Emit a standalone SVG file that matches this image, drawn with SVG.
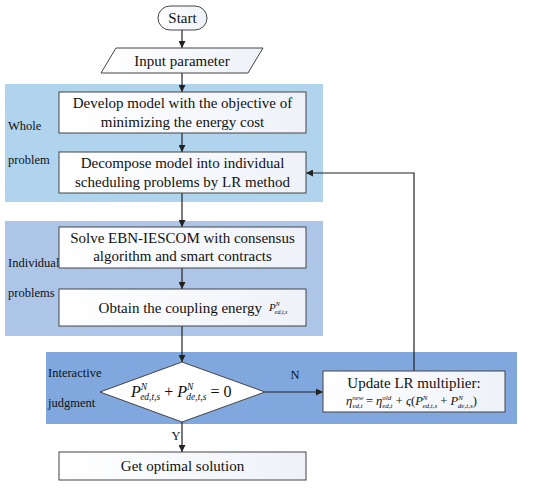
<svg xmlns="http://www.w3.org/2000/svg" width="550" height="497" viewBox="0 0 550 497" font-family="'Liberation Serif', 'Times New Roman', serif">
<defs>
<linearGradient id="bx" x1="0" y1="0" x2="1" y2="0">
<stop offset="0" stop-color="#ffffff"/>
<stop offset="1" stop-color="#eef2f8"/>
</linearGradient>
<marker id="ah" viewBox="0 0 10 10" refX="10" refY="5" markerWidth="7" markerHeight="7" markerUnits="userSpaceOnUse" orient="auto">
<path d="M0,0 L10,5 L0,10 z" fill="#222"/>
</marker>
</defs>
<style>
.t{font-family:"Liberation Serif","Times New Roman",serif;fill:#111;}
.big{font-size:15px;}
.lab{font-size:12.5px;}
.m{font-family:"Liberation Serif","Times New Roman",serif;font-style:italic;fill:#111;}
.box{fill:url(#bx);stroke:#444;stroke-width:1;}
.c{fill:none;stroke:#222;stroke-width:1.2;marker-end:url(#ah);}
</style>
<rect width="550" height="497" fill="#ffffff"/>
<g id="region-whole">
<rect x="5" y="84" width="318" height="118" fill="#b1d4ee"/>
<text class="t lab" x="8" y="130">Whole</text>
<text class="t lab" x="8" y="164">problem</text>
</g>
<g id="region-individual">
<rect x="5" y="221" width="318" height="115" fill="#adc6e8"/>
<text class="t lab" x="8" y="267">Individual</text>
<text class="t lab" x="8" y="297">problems</text>
</g>
<g id="region-interactive">
<rect x="46" y="352" width="471" height="72" fill="#80a8de"/>
<text class="t lab" x="48" y="377">Interactive</text>
<text class="t lab" x="48" y="407">judgment</text>
</g>
<g id="connectors">
<path class="c" d="M182,30 V48"/>
<path class="c" d="M182,73 V92"/>
<path class="c" d="M182,133 V152"/>
<path class="c" d="M182,193 V227"/>
<path class="c" d="M182,268 V289"/>
<path class="c" d="M182,326 V362"/>
<path class="c" d="M265,392 H323"/>
<path class="c" d="M414,371 V173 H306"/>
<path class="c" d="M182,422 V452"/>
<text class="t lab" x="295" y="379" text-anchor="middle">N</text>
<text class="t lab" x="176" y="440" text-anchor="middle">Y</text>
</g>
<g id="start">
<rect x="158" y="6" width="49" height="24" rx="12" ry="12" fill="url(#bx)" stroke="#444"/>
<text class="t big" x="182.5" y="23" text-anchor="middle">Start</text>
</g>
<g id="input">
<polygon points="116,48 263,48 248,73 101,73" class="box"/>
<text class="t big" x="182" y="65.5" text-anchor="middle">Input parameter</text>
</g>
<g id="develop">
<rect x="59" y="92" width="247" height="41" class="box"/>
<text class="t big" x="182.5" y="108" text-anchor="middle">Develop model with the objective of</text>
<text class="t big" x="182.5" y="127" text-anchor="middle">minimizing the energy cost</text>
</g>
<g id="decompose">
<rect x="59" y="152" width="247" height="41" class="box"/>
<text class="t big" x="182.5" y="168" text-anchor="middle">Decompose model into individual</text>
<text class="t big" x="182.5" y="186.5" text-anchor="middle">scheduling problems by LR method</text>
</g>
<g id="solve">
<rect x="59" y="227" width="247" height="41" class="box"/>
<text class="t big" x="182.5" y="242.5" text-anchor="middle">Solve EBN-IESCOM with consensus</text>
<text class="t big" x="182.5" y="261" text-anchor="middle">algorithm and smart contracts</text>
</g>
<g id="obtain">
<rect x="59" y="289" width="247" height="37" class="box"/>
<text class="t big" x="262" y="312.5" text-anchor="end">Obtain the coupling energy</text>
<text class="m" x="269" y="311" font-size="11">P<tspan font-size="6" dy="-5">N</tspan><tspan font-size="6" dx="-5" dy="8">ed,t,s</tspan></text>
</g>
<g id="decision">
<polygon points="182,362 265,392 182,422 100,392" fill="#ffffff" stroke="#444"/>
<text class="m" x="131" y="397" font-size="16">P<tspan font-size="9.5" dy="-7">N</tspan><tspan font-size="9.5" dx="-7" dy="10">ed,t,s</tspan><tspan font-style="normal" dy="-3"> + </tspan>P<tspan font-size="9.5" dy="-7">N</tspan><tspan font-size="9.5" dx="-7" dy="10">de,t,s</tspan><tspan font-style="normal" dy="-3"> = 0</tspan></text>
</g>
<g id="update">
<rect x="323" y="371" width="182" height="41" class="box"/>
<text class="t big" x="414" y="388" text-anchor="middle">Update LR multiplier:</text>
<text class="m" x="346" y="405" font-size="12.5">η<tspan font-size="7" dy="-5">new</tspan><tspan font-size="7" dx="-11" dy="8">ed,t</tspan><tspan font-style="normal" dy="-3"> = </tspan>η<tspan font-size="7" dy="-5">old</tspan><tspan font-size="7" dx="-9" dy="8">ed,t</tspan><tspan font-style="normal" dy="-3"> + </tspan>ς<tspan font-style="normal">(</tspan>P<tspan font-size="7" dy="-5">N</tspan><tspan font-size="7" dx="-5" dy="8">ed,t,s</tspan><tspan font-style="normal" dy="-3"> + </tspan>P<tspan font-size="7" dy="-5">N</tspan><tspan font-size="7" dx="-5" dy="8">de,t,s</tspan><tspan font-style="normal" dy="-3">)</tspan></text>
</g>
<g id="optimal">
<rect x="59" y="452" width="247" height="28" class="box"/>
<text class="t big" x="182.5" y="471" text-anchor="middle">Get optimal solution</text>
</g>
</svg>
